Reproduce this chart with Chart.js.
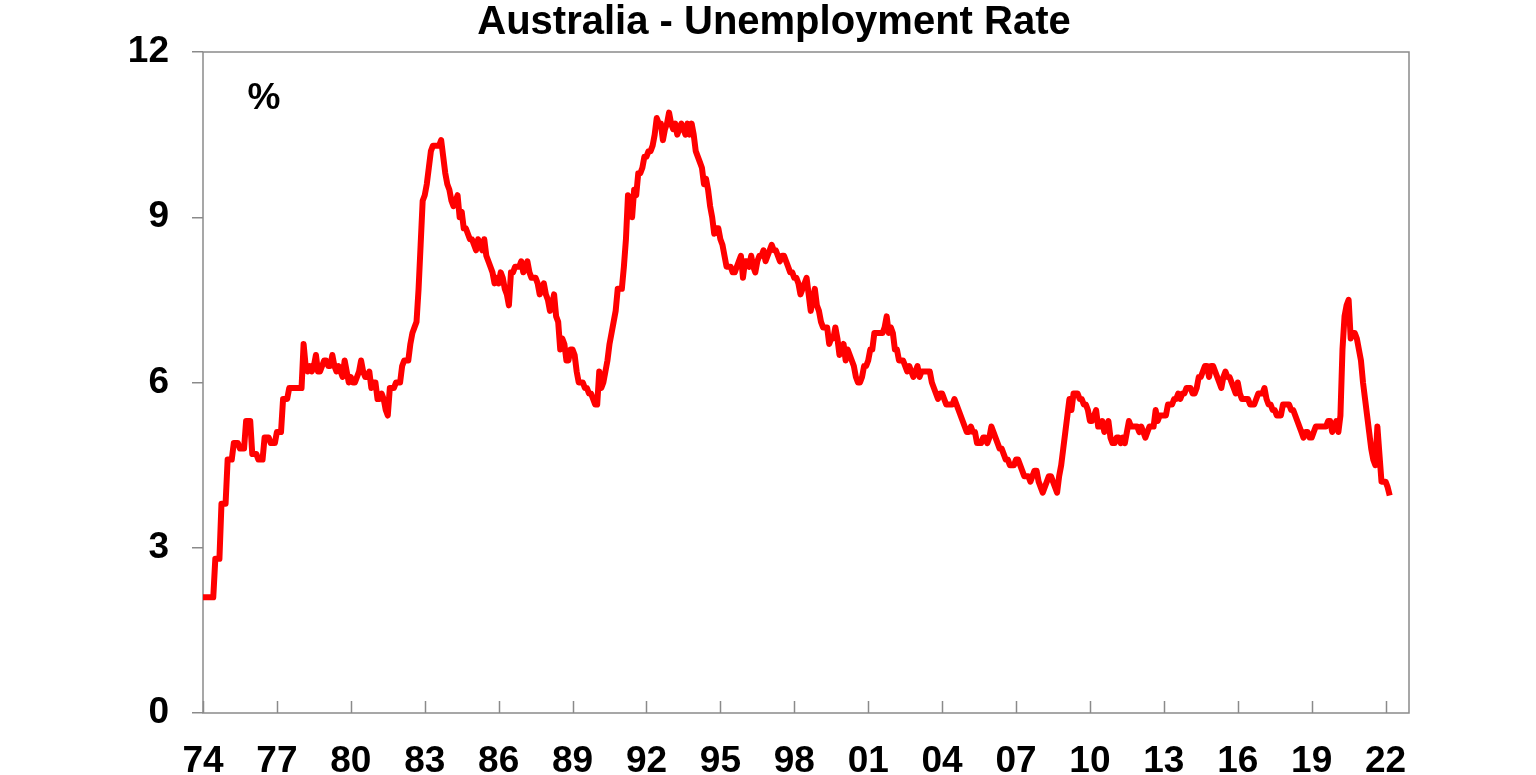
<!DOCTYPE html>
<html>
<head>
<meta charset="utf-8">
<title>Australia - Unemployment Rate</title>
<script src="https://cdn.jsdelivr.net/npm/chart.js@4.4.1/dist/chart.umd.min.js"></script>
<style>
  html, body { margin: 0; padding: 0; background: #fff; }
  #wrap { width: 1536px; height: 775px; }
</style>
</head>
<body>
<div id="wrap"><canvas id="chart" width="1536" height="775"></canvas></div>
<script>
/* ===== Data: monthly unemployment rate (%), first value = Jan 1974 ===== */
const startYear = 1974;

const rate1970s = [
  2.1,2.1,2.1,2.1,2.1,2.1,2.8,2.8,2.8,3.8,3.8,3.8,   // 74
  4.6,4.6,4.6,4.9,4.9,4.9,4.8,4.8,4.8,5.3,5.3,5.3,   // 75
  4.7,4.7,4.7,4.6,4.6,4.6,5.0,5.0,5.0,4.9,4.9,4.9,   // 76
  5.1,5.1,5.1,5.7,5.7,5.7,5.9,5.9,5.9,5.9,5.9,5.9,   // 77
  5.9,6.7,6.3,6.2,6.3,6.2,6.3,6.5,6.2,6.2,6.3,6.4,   // 78
  6.4,6.3,6.3,6.5,6.3,6.2,6.3,6.2,6.1,6.4,6.2,6.0    // 79
];
const rate1980s = [
  6.1,6.0,6.0,6.1,6.2,6.4,6.2,6.1,6.1,6.2,5.9,6.0,
  6.0,5.7,5.7,5.8,5.7,5.5,5.4,5.9,5.9,5.9,6.0,6.0,
  6.0,6.3,6.4,6.4,6.4,6.7,6.9,7.0,7.1,7.7,8.5,9.3,
  9.4,9.6,9.9,10.2,10.3,10.3,10.3,10.3,10.4,10.1,9.8,9.6,
  9.5,9.3,9.2,9.3,9.4,9.0,9.1,8.8,8.8,8.7,8.6,8.6,
  8.5,8.4,8.6,8.5,8.4,8.6,8.3,8.2,8.1,8.0,7.8,7.9,
  7.8,8.0,7.9,7.7,7.6,7.4,8.0,8.0,8.1,8.1,8.1,8.2,
  8.0,8.1,8.2,8.0,7.9,7.9,7.9,7.8,7.6,7.7,7.8,7.6,
  7.5,7.3,7.4,7.6,7.2,7.1,6.6,6.8,6.7,6.4,6.4,6.6,
  6.6,6.5,6.2,6.0,6.0,6.0,5.9,5.9,5.8,5.8,5.7,5.6
];
const rate1990s = [
  5.6,6.2,5.9,6.0,6.2,6.4,6.7,6.9,7.1,7.3,7.7,7.7,
  7.7,8.1,8.6,9.4,9.3,9.0,9.5,9.4,9.8,9.8,9.9,10.1,
  10.1,10.2,10.2,10.3,10.5,10.8,10.7,10.7,10.4,10.6,10.7,10.9,
  10.7,10.6,10.7,10.5,10.6,10.7,10.6,10.5,10.7,10.5,10.7,10.5,
  10.2,10.1,10.0,9.9,9.6,9.7,9.5,9.2,9.0,8.7,8.8,8.8,
  8.6,8.5,8.3,8.1,8.1,8.1,8.0,8.0,8.1,8.2,8.3,7.9,
  8.2,8.2,8.1,8.3,8.1,8.0,8.2,8.3,8.3,8.4,8.2,8.3,
  8.4,8.5,8.4,8.4,8.3,8.2,8.3,8.3,8.2,8.1,8.0,8.0,
  7.9,7.9,7.8,7.6,7.7,7.8,7.9,7.6,7.3,7.5,7.7,7.4,
  7.3,7.1,7.0,7.0,7.0,6.7,6.8,6.8,7.0,6.8,6.5,6.6
];
const rate2000s = [
  6.7,6.4,6.6,6.5,6.4,6.3,6.1,6.0,6.0,6.1,6.3,6.3,
  6.4,6.6,6.6,6.9,6.9,6.9,6.9,6.9,7.0,7.2,6.9,7.0,
  6.9,6.6,6.6,6.4,6.4,6.4,6.3,6.2,6.3,6.2,6.1,6.2,
  6.3,6.1,6.2,6.2,6.2,6.2,6.2,6.0,5.9,5.8,5.7,5.8,
  5.8,5.7,5.6,5.6,5.6,5.6,5.7,5.6,5.5,5.4,5.3,5.2,
  5.1,5.1,5.2,5.1,5.1,4.9,4.9,4.9,5.0,5.0,4.9,5.0,
  5.2,5.1,5.0,4.9,4.8,4.8,4.7,4.6,4.6,4.5,4.5,4.5,
  4.6,4.6,4.5,4.4,4.3,4.3,4.3,4.2,4.3,4.4,4.4,4.2,
  4.1,4.0,4.1,4.2,4.3,4.3,4.2,4.1,4.0,4.3,4.5,4.8,
  5.1,5.4,5.7,5.5,5.8,5.8,5.8,5.7,5.7,5.6,5.6,5.5
];
const rate2010s = [
  5.3,5.3,5.4,5.5,5.2,5.2,5.3,5.1,5.2,5.3,5.0,4.9,
  4.9,5.0,5.0,4.9,5.0,4.9,5.1,5.3,5.2,5.2,5.2,5.2,
  5.1,5.2,5.1,5.0,5.1,5.2,5.2,5.2,5.5,5.3,5.4,5.4,
  5.4,5.4,5.6,5.6,5.6,5.7,5.7,5.8,5.7,5.8,5.8,5.9,
  5.9,5.9,5.8,5.8,5.9,6.1,6.1,6.2,6.3,6.3,6.1,6.3,
  6.3,6.2,6.1,6.0,5.9,6.1,6.2,6.1,6.1,6.0,5.9,5.8,
  6.0,5.8,5.7,5.7,5.7,5.7,5.6,5.6,5.6,5.7,5.8,5.8,
  5.8,5.9,5.7,5.6,5.6,5.5,5.5,5.4,5.4,5.4,5.6,5.6,
  5.6,5.6,5.5,5.5,5.4,5.3,5.2,5.1,5.0,5.1,5.1,5.0,
  5.0,5.1,5.2,5.2,5.2,5.2,5.2,5.2,5.3,5.3,5.1,5.2
];
const rate2020s = [
  5.3,5.1,5.4,6.6,7.2,7.4,7.5,6.8,6.9,6.9,6.8,6.6,
  6.4,6.0,5.7,5.4,5.1,4.8,4.6,4.5,5.2,4.7,4.2,4.2,
  4.2,4.1,3.95
];

const xTickYears = [1974,1977,1980,1983,1986,1989,1992,1995,1998,2001,2004,2007,2010,2013,2016,2019,2022];
const yTickValues = [0,3,6,9,12];
const chartTitle = "Australia - Unemployment Rate";
const unitLabel = "%";

/* ===== Helpers ===== */
const FONT = '"Liberation Sans", Arial, sans-serif';
const AXIS_GREY = "#8a8a8a";

const allRates = [].concat(rate1970s, rate1980s, rate1990s, rate2000s, rate2010s, rate2020s);
const points = allRates.map((v, i) => ({ x: startYear + i / 12, y: v }));

// frame, inward x ticks, title and unit label
const decorations = {
  id: "decorations",
  beforeDatasetsDraw(chart){
    const { ctx, chartArea: a, scales } = chart;
    ctx.save();
    ctx.strokeStyle = AXIS_GREY;
    ctx.lineWidth = 1.5;
    ctx.strokeRect(a.left, a.top, a.right - a.left, a.bottom - a.top);
    ctx.beginPath();
    scales.x.ticks.forEach(t => {
      const px = Math.round(scales.x.getPixelForValue(t.value)) + 0.5;
      ctx.moveTo(px, a.bottom);
      ctx.lineTo(px, a.bottom - 12);
    });
    ctx.stroke();
    ctx.restore();
  },
  afterDraw(chart){
    const { ctx, chartArea: a } = chart;
    ctx.save();
    ctx.fillStyle = "#000";
    ctx.textBaseline = "alphabetic";
    ctx.textAlign = "center";
    ctx.font = "bold 40px " + FONT;
    ctx.fillText(chartTitle, 774, 34);
    ctx.font = "bold 37px " + FONT;
    ctx.fillText(unitLabel, a.left + 61, a.top + 57);
    ctx.restore();
  }
};

/* ===== Chart ===== */
new Chart(document.getElementById("chart").getContext("2d"), {
  type: "line",
  data: {
    datasets: [{
      label: "Unemployment rate",
      data: points,
      borderColor: "#ff0000",
      borderWidth: 6,
      pointRadius: 0,
      tension: 0,
      fill: false,
      borderJoinStyle: "round",
      borderCapStyle: "butt"
    }]
  },
  options: {
    responsive: false,
    animation: false,
    layout: { padding: { top: 52, right: 127, left: 0, bottom: 0 } },
    plugins: { legend: { display: false }, tooltip: { enabled: false }, title: { display: false } },
    scales: {
      x: {
        type: "linear",
        min: startYear,
        max: 2022.95,
        afterBuildTicks: s => { s.ticks = xTickYears.map(v => ({ value: v })); },
        afterFit: s => { s.height = 62; },
        grid: { display: false, drawTicks: false },
        border: { display: false },
        ticks: {
          autoSkip: false, maxRotation: 0, padding: 27, color: "#000",
          font: { family: FONT, size: 37, weight: "bold" },
          callback: v => String(Math.round(v) % 100).padStart(2, "0")
        }
      },
      y: {
        min: 0,
        max: 12,
        afterBuildTicks: s => { s.ticks = yTickValues.map(v => ({ value: v })); },
        afterFit: s => { s.width = 203; },
        grid: { drawOnChartArea: false, drawTicks: true, tickLength: 11, color: AXIS_GREY, lineWidth: 1.5 },
        border: { display: false },
        ticks: {
          padding: 23, color: "#000",
          font: { family: FONT, size: 37, weight: "bold" }
        }
      }
    }
  },
  plugins: [decorations]
});
</script>
</body>
</html>
